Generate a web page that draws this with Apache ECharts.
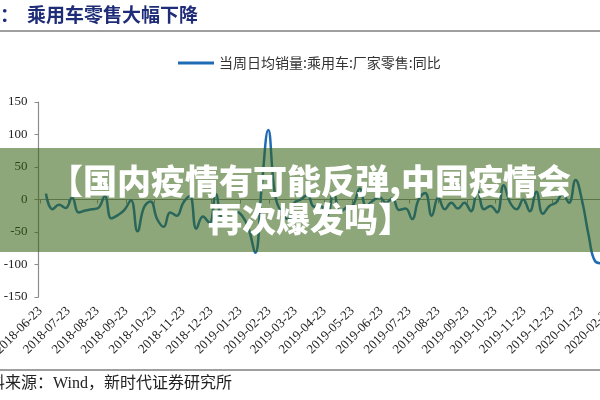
<!DOCTYPE html>
<html><head><meta charset="utf-8">
<script src="https://cdn.jsdelivr.net/npm/echarts@6/dist/echarts.min.js"></script>
<style>html,body{margin:0;padding:0;background:#fff}#c{width:600px;height:400px}</style>
</head><body><div id="c"></div>
<script>
// ---- data ----
const seriesName = '当周日均销量:乘用车:厂家零售:同比';
const firstWeek = '2018-06-29';          // date of first weekly observation
const axisStart = '2018-06-21';          // first day of the date axis
const axisEnd = '2020-03-01';            // last day of the date axis
const labelDay = '23';                   // tick labels fall on the 23rd of each month
const yoy = [9, -15, -8, -13, 3, -20, -17, -15, -13, 5,
  -29, -24, -16, -1, -49, -12, -3, -30, -42, -20,
  -25, -5, 5, -45, -26, -36, 8, -28, -22, -19,
  -25, -45, -82, 20, 107, 10, -20, -30, -5, 0,
  7, -11, -10, -24, 12, -19, -12, -8, 17, -10,
  -2, 4, -5, 2, -16, -14, -30, 0, 10, -25,
  3, -15, -5, -14, -5, -18, 15, -15, -10, -20,
  22, -5, -15, 0, -18, 12, -22, -10, -5, 8,
  -5, 30, -2, -55, -95, -98];
const yMin = -150, yMax = 150, yStep = 50;
const titleText = '乘用车零售大幅下降';
const sourceText = '资料来源：Wind，新时代证券研究所';
const bannerLines = ['【国内疫情有可能反弹,中国疫情会', '再次爆发吗】'];

// ---- build axis & series ----
function fmt(d){return d.toISOString().slice(0,10);}
const DAY = 86400000;
const cats = [];
for (let t = Date.parse(axisStart+'T00:00:00Z'); t <= Date.parse(axisEnd+'T00:00:00Z'); t += DAY) cats.push(fmt(new Date(t)));
const idx = {}; cats.forEach((c,i)=>idx[c]=i);
const t0 = Date.parse(firstWeek+'T00:00:00Z');
const lineData = yoy.map((v,i)=>[idx[fmt(new Date(t0 + i*7*DAY))], v]);
const isLabelDay = (i, v) => v.slice(8) === labelDay;

const pxPerDay = 0.934;
const gridLeft = 38.5;
const gridWidth = (cats.length-1)*pxPerDay;

const chart = echarts.init(document.getElementById('c'), null, {renderer:'canvas'});
const serif = '"Liberation Serif", "Times New Roman"';
const cjk = '"Noto Sans CJK SC", sans-serif';
chart.setOption({
  animation:false,
  grid:{left:gridLeft, top:102, width:gridWidth, height:195, containLabel:false, outerBoundsMode:'none'},
  legend:{
    data:[seriesName], left:173, top:51, icon:'rect', itemWidth:36, itemHeight:3,
    textStyle:{fontFamily:cjk, fontSize:14, color:'#333'}
  },
  xAxis:[{
    type:'category', data:cats, boundaryGap:false, position:'bottom',
    axisLine:{onZero:true, lineStyle:{color:'#8c8c8c', width:1.2}},
    axisTick:{show:true, interval:isLabelDay, length:4, lineStyle:{color:'#8c8c8c'}},
    axisLabel:{show:false}, splitLine:{show:false}
  },{
    type:'category', data:cats, boundaryGap:false, position:'bottom',
    axisLine:{show:false, onZero:false}, axisTick:{show:false},
    axisLabel:{show:true, interval:isLabelDay, rotate:45, margin:12,
      fontFamily:serif+', serif', fontSize:13, color:'#222'},
    splitLine:{show:false}
  }],
  yAxis:{
    type:'value', min:yMin, max:yMax, interval:yStep,
    axisLine:{show:true, lineStyle:{color:'#8c8c8c', width:1.2}},
    axisTick:{show:true, length:4, lineStyle:{color:'#8c8c8c'}},
    axisLabel:{margin:11, fontFamily:serif+', serif', fontSize:13, color:'#222'},
    splitLine:{show:false}
  },
  series:[{
    name:seriesName, type:'line', xAxisIndex:0, data:lineData,
    smooth:0.45, showSymbol:false, symbol:'none',
    lineStyle:{color:'#1f6cb5', width:2.5}, itemStyle:{color:'#1f6cb5'}
  }],
  graphic:[
    {type:'text', x:0, y:15, z:100, style:{text:'：', font:'bold 19px '+cjk, fill:'#1f2c78', textVerticalAlign:'middle', verticalAlign:'middle'}},
    {type:'text', x:27, y:15, z:100, style:{text:titleText, font:'bold 19px '+cjk, fill:'#1f2c78', textVerticalAlign:'middle', verticalAlign:'middle'}},
    {type:'line', z:100, shape:{x1:0, y1:31, x2:600, y2:31}, style:{stroke:'#7f7f7f', lineWidth:1.5}},
    {type:'line', z:100, shape:{x1:0, y1:370, x2:600, y2:370}, style:{stroke:'#7f7f7f', lineWidth:1.5}},
    {type:'text', x:-27, y:384, z:100, style:{text:sourceText, font:'16px '+serif+', '+cjk, fill:'#222', textVerticalAlign:'middle', verticalAlign:'middle'}},
    {type:'rect', z:100, shape:{x:0, y:148, width:600, height:104}, style:{fill:'rgba(52,98,18,0.56)'}},
    {type:'text', x:310, y:181, z:101, style:{text:bannerLines[0], font:'900 34px '+cjk, fill:'#fff', textAlign:'center', align:'center', textVerticalAlign:'middle', verticalAlign:'middle'}},
    {type:'text', x:310, y:219, z:101, style:{text:bannerLines[1], font:'900 34px '+cjk, fill:'#fff', textAlign:'center', align:'center', textVerticalAlign:'middle', verticalAlign:'middle'}}
  ]
});
</script>
</body></html>
